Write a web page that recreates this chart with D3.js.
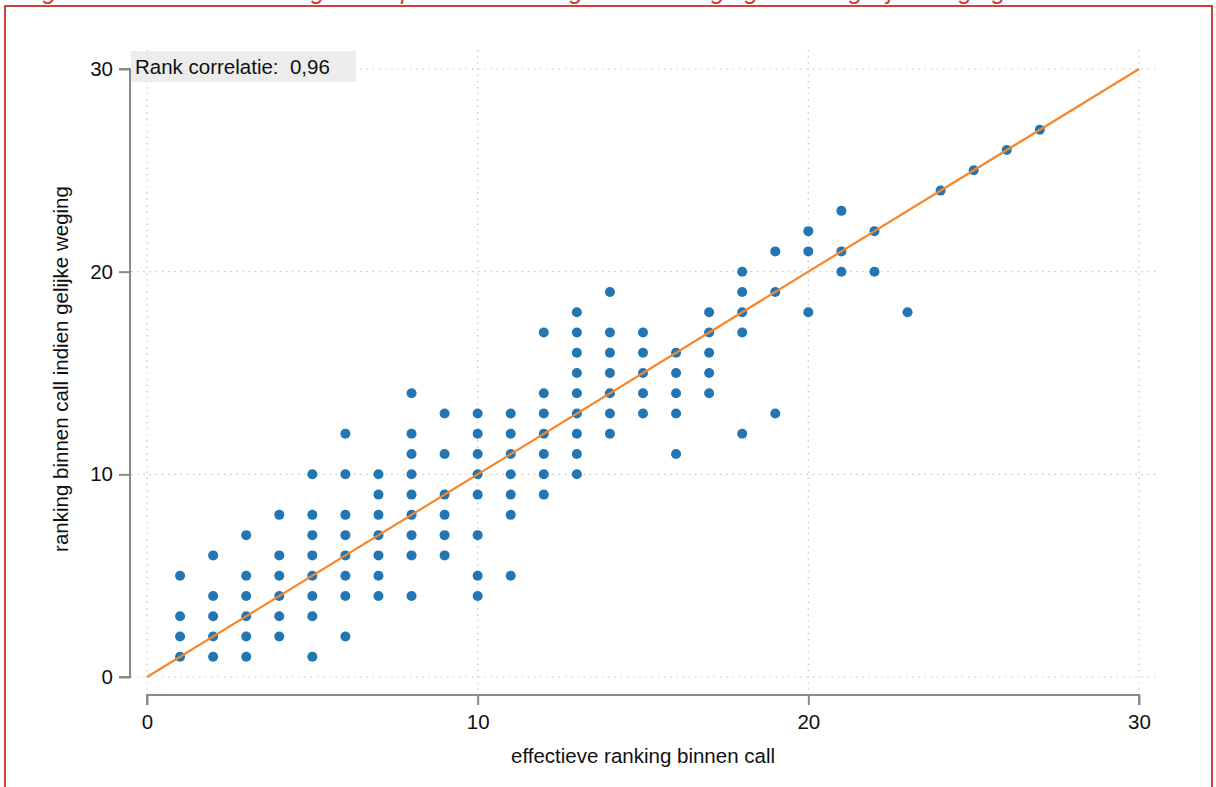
<!DOCTYPE html>
<html>
<head>
<meta charset="utf-8">
<script src="https://cdn.jsdelivr.net/npm/d3@7"></script>
<style>
  html, body { margin: 0; padding: 0; background: #fff; }
  svg { display: block; }
  text { font-family: "Liberation Sans", Arial, Helvetica, sans-serif; }
</style>
</head>
<body>
<svg id="chart" width="1216" height="787"></svg>
<script>
// Effective ranking within call (x) and ranking with equal weighting (y), one entry per project
const xRank = [
  1,1,1,1,
  2,2,2,2,2,
  3,3,3,3,3,3,
  4,4,4,4,4,4,
  5,5,5,5,5,5,5,5,
  6,6,6,6,6,6,6,6,
  7,7,7,7,7,7,7,
  8,8,8,8,8,8,8,8,8,
  9,9,9,9,9,9,
  10,10,10,10,10,10,10,10,
  11,11,11,11,11,11,11,
  12,12,12,12,12,12,12,
  13,13,13,13,13,13,13,13,13,
  14,14,14,14,14,14,14,
  15,15,15,15,15,
  16,16,16,16,16,
  17,17,17,17,17,
  18,18,18,18,18,
  19,19,19,
  20,20,20,
  21,21,21,
  22,22,
  23,
  24,25,26,27
];
const yRank = [
  5,3,2,1,
  6,4,3,2,1,
  7,5,4,3,2,1,
  8,6,5,4,3,2,
  10,8,7,6,5,4,3,1,
  12,10,8,7,6,5,4,2,
  10,9,8,7,6,5,4,
  14,12,11,10,9,8,7,6,4,
  13,11,9,8,7,6,
  13,12,11,10,9,7,5,4,
  13,12,11,10,9,8,5,
  17,14,13,12,11,10,9,
  18,17,16,15,14,13,12,11,10,
  19,17,16,15,14,13,12,
  17,16,15,14,13,
  16,15,14,13,11,
  18,17,16,15,14,
  20,19,18,17,12,
  21,19,13,
  22,21,18,
  23,21,20,
  22,20,
  18,
  24,25,26,27
];
const axisTicks = [0, 10, 20, 30];
const diagonal = [0, 30];
const correlationLabel = "Rank correlatie:  0,96";
const xTitle = "effectieve ranking binnen call";
const yTitle = "ranking binnen call indien gelijke weging";
const captionText = "Figuur 4: Correlatie ranking data op basis van de gebruikte weging en een gelijke weging";

const svg = d3.select("#chart");

// Caption above the framed figure (runs off the top of the page)
svg.append("text")
  .attr("x", 22).attr("y", -1)
  .attr("fill", "#d23b35")
  .attr("font-size", 25)
  .attr("font-style", "italic")
  .text(captionText);
svg.append("rect")
  .attr("x", 5).attr("y", 6)
  .attr("width", 1207).attr("height", 800)
  .attr("fill", "none")
  .attr("stroke", "#d0403a")
  .attr("stroke-width", 2);

const x = d3.scaleLinear().domain([0, 30]).range([147, 1139]);
const y = d3.scaleLinear().domain([0, 30]).range([677, 69]);

const plotLeft = 131, plotRight = 1158, plotTop = 50, plotBottom = 690;
const gridColor = "#b8b8b8";

// Dotted grid
const grid = svg.append("g");
grid.selectAll("line.v").data(axisTicks).join("line")
  .attr("x1", d => x(d)).attr("x2", d => x(d))
  .attr("y1", plotTop).attr("y2", plotBottom)
  .attr("stroke", gridColor).attr("stroke-width", 1.2)
  .attr("stroke-dasharray", "1.2,5");
grid.selectAll("line.h").data(axisTicks).join("line")
  .attr("x1", plotLeft).attr("x2", plotRight)
  .attr("y1", d => y(d)).attr("y2", d => y(d))
  .attr("stroke", gridColor).attr("stroke-width", 1.2)
  .attr("stroke-dasharray", "1.2,5");

// Axes
const axisColor = "#8a8a8a";
const xAxis = svg.append("g")
  .attr("transform", "translate(0,695)")
  .call(d3.axisBottom(x).tickValues(axisTicks).tickSize(10).tickPadding(9).tickFormat(d3.format("d")));
const yAxis = svg.append("g")
  .attr("transform", "translate(130,0)")
  .call(d3.axisLeft(y).tickValues(axisTicks).tickSize(11).tickPadding(6).tickFormat(d3.format("d")));
[xAxis, yAxis].forEach(g => {
  g.select(".domain").attr("stroke", axisColor).attr("stroke-width", 2);
  g.selectAll(".tick line").attr("stroke", axisColor).attr("stroke-width", 2);
  g.selectAll(".tick text")
    .attr("fill", "#111")
    .attr("font-size", 20.5)
    .attr("font-family", "'Liberation Sans', Arial, sans-serif");
});
xAxis.select(".domain").attr("d", `M${x(0)},10V0H${x(30)}V10`);
yAxis.select(".domain").attr("d", `M-11,${y(0)}H0V${y(30)}H-11`);

// Points
const pts = xRank.map((v, i) => ({ x: v, y: yRank[i] }));
svg.append("g").selectAll("circle").data(pts).join("circle")
  .attr("cx", d => x(d.x))
  .attr("cy", d => y(d.y))
  .attr("r", 5)
  .attr("fill", "#2276b3");

// Identity line
svg.append("line")
  .attr("x1", x(diagonal[0])).attr("y1", y(diagonal[0]))
  .attr("x2", x(diagonal[1])).attr("y2", y(diagonal[1]))
  .attr("stroke", "#f5862a").attr("stroke-width", 2.2);

// Correlation label
svg.append("rect")
  .attr("x", 131).attr("y", 51)
  .attr("width", 225).attr("height", 31)
  .attr("fill", "#ececec");
svg.append("text")
  .attr("x", 135).attr("y", 74)
  .attr("font-size", 20.5)
  .attr("fill", "#111")
  .attr("xml:space", "preserve")
  .style("white-space", "pre")
  .text(correlationLabel);

// Axis titles
svg.append("text")
  .attr("x", (x(0) + x(30)) / 2).attr("y", 763)
  .attr("text-anchor", "middle")
  .attr("font-size", 20.5)
  .attr("fill", "#111")
  .text(xTitle);
svg.append("text")
  .attr("transform", `translate(68,${y(15) - 4}) rotate(-90)`)
  .attr("text-anchor", "middle")
  .attr("font-size", 20.5)
  .attr("fill", "#111")
  .text(yTitle);
</script>
</body>
</html>
